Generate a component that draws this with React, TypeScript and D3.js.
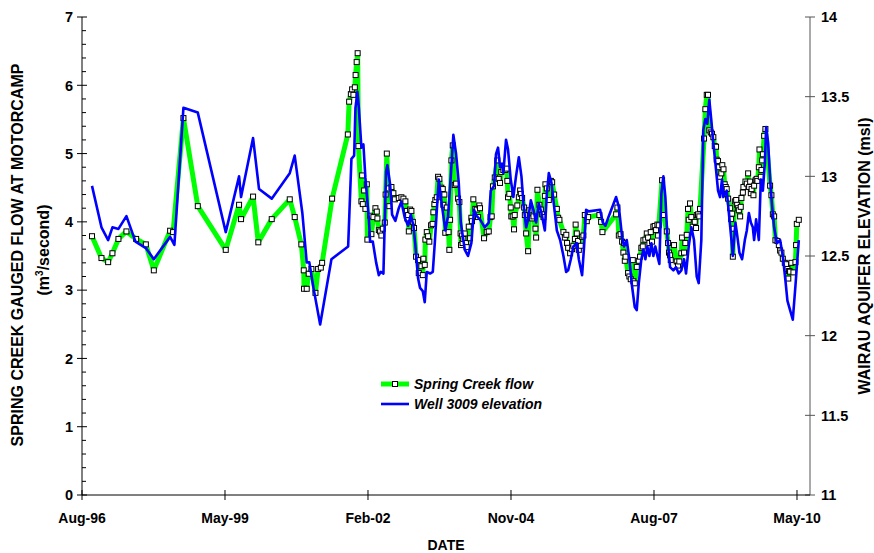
import React from "react";
import * as d3 from "d3";

// ---- data ----
const flowYears = [1996.835,1997.014,1997.142,1997.224,1997.339,1997.492,1997.678,1997.864,1998.017,1998.329,1998.386,1998.584,1998.859,1999.395,1999.650,1999.688,1999.918,2000.019,2000.276,2000.621,2000.716,2000.843,2000.889,2000.894,2000.946,2000.984,2001.034,2001.111,2001.162,2001.214,2001.239,2001.430,2001.731,2001.756,2001.789,2001.813,2001.838,2001.865,2001.880,2001.900,2001.919,2001.934,2001.991,2002.005,2002.018,2002.043,2002.068,2002.095,2002.106,2002.158,2002.183,2002.221,2002.260,2002.286,2002.298,2002.325,2002.349,2002.374,2002.401,2002.439,2002.455,2002.478,2002.503,2002.527,2002.566,2002.604,2002.631,2002.707,2002.757,2002.796,2002.834,2002.861,2002.872,2002.886,2002.899,2002.924,2002.949,2002.976,2003.000,2003.039,2003.077,2003.090,2003.140,2003.167,2003.179,2003.205,2003.217,2003.244,2003.269,2003.293,2003.326,2003.355,2003.370,2003.389,2003.408,2003.435,2003.460,2003.485,2003.523,2003.550,2003.561,2003.581,2003.598,2003.627,2003.661,2003.676,2003.690,2003.715,2003.741,2003.780,2003.805,2003.843,2003.868,2003.891,2003.900,2003.920,2003.929,2003.944,2003.971,2003.996,2004.009,2004.048,2004.073,2004.098,2004.111,2004.136,2004.174,2004.201,2004.226,2004.251,2004.264,2004.341,2004.392,2004.431,2004.465,2004.488,2004.511,2004.546,2004.595,2004.622,2004.647,2004.672,2004.710,2004.749,2004.775,2004.787,2004.800,2004.825,2004.852,2004.863,2004.890,2004.915,2004.928,2004.978,2005.005,2005.030,2005.043,2005.068,2005.107,2005.120,2005.145,2005.183,2005.208,2005.235,2005.260,2005.285,2005.323,2005.336,2005.361,2005.399,2005.426,2005.451,2005.476,2005.503,2005.514,2005.541,2005.579,2005.618,2005.643,2005.681,2005.733,2005.758,2005.782,2005.859,2005.886,2005.914,2005.928,2005.949,2005.987,2006.026,2006.050,2006.079,2006.093,2006.116,2006.140,2006.154,2006.192,2006.217,2006.242,2006.269,2006.307,2006.332,2006.548,2006.581,2006.606,2006.868,2006.893,2006.920,2006.954,2006.983,2007.008,2007.021,2007.035,2007.050,2007.098,2007.123,2007.149,2007.188,2007.199,2007.226,2007.264,2007.303,2007.327,2007.352,2007.379,2007.391,2007.429,2007.456,2007.481,2007.506,2007.532,2007.557,2007.582,2007.609,2007.634,2007.659,2007.672,2007.686,2007.749,2007.774,2007.839,2007.864,2007.881,2007.902,2007.915,2007.978,2008.030,2008.055,2008.080,2008.118,2008.132,2008.170,2008.195,2008.222,2008.246,2008.260,2008.285,2008.310,2008.336,2008.375,2008.400,2008.413,2008.438,2008.463,2008.476,2008.553,2008.578,2008.605,2008.629,2008.654,2008.681,2008.706,2008.731,2008.758,2008.783,2008.796,2008.821,2008.834,2008.859,2008.884,2008.903,2008.926,2008.949,2008.968,2008.987,2009.012,2009.051,2009.070,2009.089,2009.102,2009.114,2009.141,2009.166,2009.185,2009.198,2009.217,2009.242,2009.254,2009.267,2009.294,2009.305,2009.344,2009.370,2009.395,2009.414,2009.434,2009.447,2009.462,2009.497,2009.510,2009.539,2009.558,2009.573,2009.600,2009.612,2009.638,2009.650,2009.663,2009.677,2009.702,2009.726,2009.816,2009.841,2009.868,2009.893,2009.918,2009.956,2009.983,2010.008,2010.033,2010.060,2010.098,2010.123,2010.148,2010.165,2010.180,2010.199,2010.224,2010.263,2010.301,2010.314,2010.328,2010.366];
const flowValues = [3.79,3.47,3.41,3.54,3.75,3.86,3.75,3.67,3.29,3.87,3.85,5.52,4.23,3.59,4.25,4.04,4.37,3.70,4.04,4.33,4.07,3.67,3.29,3.02,3.02,3.24,3.31,2.96,3.31,3.33,3.40,4.34,5.28,5.76,5.87,5.94,5.86,5.97,6.15,6.34,6.47,5.11,4.30,4.68,4.26,4.46,4.19,4.55,3.74,4.09,3.82,4.07,4.20,4.15,4.05,3.88,3.86,3.80,3.90,3.99,4.40,5.00,4.49,4.23,4.51,4.42,4.33,4.35,4.36,4.34,4.30,4.16,4.05,4.10,3.86,4.18,4.16,4.00,3.91,3.49,3.44,3.25,3.35,3.22,3.46,3.37,3.74,3.85,3.79,3.71,3.95,3.97,4.14,4.26,4.32,4.36,4.66,4.63,4.50,4.48,4.25,4.40,3.84,4.21,3.85,3.59,4.03,4.90,5.12,4.54,4.56,4.34,4.29,3.83,3.66,3.80,3.69,3.75,3.83,3.69,3.63,3.93,3.76,4.06,4.01,4.33,4.19,4.18,4.07,4.24,4.20,3.76,3.85,3.86,4.07,4.08,4.52,4.65,4.90,4.63,4.57,4.73,4.76,4.76,4.78,4.60,4.36,4.41,4.21,4.08,4.08,3.89,4.10,4.24,4.36,4.46,4.41,4.35,4.21,4.10,3.83,3.57,4.17,4.06,4.05,4.08,3.90,3.77,4.47,4.25,4.18,4.11,4.07,4.38,4.55,4.49,4.32,4.60,4.58,4.40,4.19,4.06,4.03,3.85,3.77,3.81,3.69,3.62,3.54,3.60,3.65,3.75,3.96,3.83,3.72,3.59,3.65,3.78,3.80,4.10,4.01,4.07,4.10,4.00,3.85,4.11,4.21,3.80,3.82,3.71,3.55,3.69,3.43,3.49,3.25,3.20,3.16,3.44,3.13,3.10,3.34,3.43,3.49,3.62,3.64,3.73,3.74,3.83,3.77,3.69,3.85,3.71,3.93,3.94,3.88,3.96,3.80,3.95,4.61,4.10,3.86,3.69,3.55,3.51,3.44,3.66,3.42,3.36,3.42,3.54,3.77,3.55,3.69,3.81,4.19,4.03,4.27,4.07,3.93,4.00,3.91,4.10,4.11,4.08,4.19,5.22,5.65,5.86,5.86,5.34,5.31,5.29,5.24,5.11,5.10,4.91,4.89,4.80,4.66,4.71,4.83,4.77,4.55,4.51,4.48,4.34,4.20,4.04,4.12,3.49,3.90,4.30,4.32,4.25,4.20,4.17,4.08,4.22,4.35,4.43,4.51,4.59,4.56,4.71,4.51,4.59,4.42,4.48,4.39,4.53,4.61,4.63,4.60,4.80,5.06,4.66,4.76,4.90,4.99,5.26,5.36,4.53,4.39,4.11,4.08,3.73,3.72,3.66,3.58,3.55,3.46,3.40,3.38,3.31,3.17,3.28,3.27,3.40,3.26,3.41,3.66,3.97,4.03];

const wellYears = [1996.835,1997.014,1997.142,1997.224,1997.339,1997.492,1997.665,1997.864,1998.017,1998.329,1998.411,1998.584,1998.859,1999.395,1999.650,1999.688,1999.918,2000.033,2000.276,2000.621,2000.716,2000.862,2000.946,2000.996,2001.073,2001.201,2001.417,2001.737,2001.800,2001.852,2001.877,2001.915,2001.942,2001.991,2002.030,2002.068,2002.133,2002.158,2002.210,2002.273,2002.325,2002.363,2002.413,2002.464,2002.489,2002.541,2002.579,2002.642,2002.707,2002.757,2002.822,2002.886,2002.937,2002.987,2003.025,2003.077,2003.115,2003.167,2003.205,2003.244,2003.307,2003.359,2003.397,2003.473,2003.537,2003.600,2003.651,2003.703,2003.753,2003.805,2003.856,2003.895,2003.971,2004.034,2004.098,2004.149,2004.201,2004.264,2004.354,2004.431,2004.469,2004.532,2004.570,2004.609,2004.647,2004.685,2004.710,2004.762,2004.800,2004.852,2004.902,2004.953,2005.005,2005.055,2005.093,2005.145,2005.183,2005.235,2005.285,2005.336,2005.388,2005.438,2005.503,2005.541,2005.579,2005.629,2005.681,2005.733,2005.796,2005.859,2005.911,2005.949,2006.001,2006.050,2006.116,2006.154,2006.217,2006.255,2006.294,2006.345,2006.562,2006.613,2006.663,2006.728,2006.868,2006.920,2006.983,2007.021,2007.073,2007.123,2007.174,2007.226,2007.264,2007.303,2007.352,2007.391,2007.429,2007.467,2007.506,2007.544,2007.582,2007.620,2007.659,2007.697,2007.735,2007.774,2007.812,2007.850,2007.902,2007.965,2008.017,2008.068,2008.118,2008.170,2008.208,2008.260,2008.310,2008.361,2008.413,2008.451,2008.501,2008.539,2008.578,2008.616,2008.654,2008.693,2008.731,2008.783,2008.821,2008.859,2008.897,2008.922,2008.987,2009.026,2009.076,2009.102,2009.152,2009.190,2009.229,2009.280,2009.332,2009.370,2009.409,2009.447,2009.485,2009.510,2009.548,2009.600,2009.638,2009.677,2009.715,2009.740,2009.778,2009.816,2009.855,2009.893,2009.945,2010.008,2010.060,2010.109,2010.148,2010.199,2010.251,2010.301,2010.339,2010.366];
const wellValues = [12.94,12.68,12.60,12.68,12.67,12.75,12.59,12.55,12.48,12.62,12.57,13.43,13.40,12.65,13.00,12.87,13.24,12.92,12.86,13.02,13.13,12.77,12.46,12.46,12.30,12.07,12.48,12.56,13.11,13.13,13.43,13.53,13.43,13.18,13.20,12.99,12.74,12.59,12.59,12.46,12.38,12.40,12.39,13.03,13.07,12.95,12.76,12.72,12.80,12.84,12.74,12.69,12.76,12.69,12.57,12.36,12.30,12.28,12.21,12.40,12.39,12.40,12.58,12.98,12.81,12.66,12.75,13.00,13.26,13.14,12.96,12.71,12.54,12.50,12.58,12.79,12.75,12.73,12.68,12.71,12.91,12.94,13.14,13.18,13.06,13.08,13.02,13.23,13.17,12.98,12.87,13.00,13.12,13.00,12.83,12.68,12.73,12.85,12.79,12.71,12.83,12.77,12.66,12.89,13.02,12.96,12.81,12.66,12.60,12.50,12.40,12.41,12.48,12.56,12.58,12.48,12.38,12.56,12.79,12.78,12.79,12.71,12.69,12.75,12.87,12.81,12.62,12.56,12.60,12.48,12.31,12.18,12.16,12.33,12.48,12.54,12.48,12.56,12.50,12.58,12.50,12.56,12.50,12.45,12.89,13.00,12.87,12.62,12.43,12.41,12.43,12.39,12.41,12.48,12.39,12.56,12.68,12.60,12.37,12.33,12.60,13.29,13.36,13.33,13.48,13.35,13.21,13.04,12.91,12.87,12.98,12.87,12.91,12.77,12.60,12.50,12.71,12.62,12.52,12.48,12.60,12.66,12.77,12.71,12.68,12.60,12.73,12.60,12.98,12.91,13.08,13.31,13.21,12.98,12.81,12.68,12.58,12.60,12.50,12.35,12.22,12.16,12.10,12.31,12.48,12.60];

// x axis: Excel serial day numbers
const xDomainSerial = [35300, 40391];
const xTickSerials = [35300, 36300, 37300, 38300, 39300, 40300];
const flowTicks = [0, 1, 2, 3, 4, 5, 6, 7];
const elevTicks = [11, 11.5, 12, 12.5, 13, 13.5, 14];

const serialToDate = (s: number) => new Date(Date.UTC(1899, 11, 30) + s * 86400000);
const yearToDate = (y: number) => {
  const yr = Math.floor(y);
  return new Date(Date.UTC(yr, 0, 1) + (y - yr) * 365.25 * 86400000);
};

const W = 874, H = 553;
const L = 82, R = 810, T = 17, B = 495;
const FONT = "'Liberation Sans', Arial, sans-serif";

export default function App() {
  const x = d3.scaleUtc().domain(xDomainSerial.map(serialToDate)).range([L, R]);
  const yL = d3.scaleLinear().domain([0, 7]).range([B, T]);
  const yR = d3.scaleLinear().domain([11, 14]).range([B, T]);
  const fmt = d3.utcFormat("%b-%y");

  const flow = flowYears.map((y, i) => ({ d: yearToDate(y), v: flowValues[i] }));
  const well = wellYears.map((y, i) => ({ d: yearToDate(y), v: wellValues[i] }));

  const flowLine = d3.line<{ d: Date; v: number }>().x(p => x(p.d)).y(p => yL(p.v));
  const wellLine = d3.line<{ d: Date; v: number }>().x(p => x(p.d)).y(p => yR(p.v));

  const minor = d3.range(0, 7.001, 0.2).filter(v => Math.abs(v - Math.round(v)) > 1e-6);
  const MS = 5;

  return (
    <svg width={W} height={H} style={{ position: "absolute", left: 0, top: 0, background: "#fff" }}
      fontFamily={FONT} fontWeight="bold">
      <rect width={W} height={H} fill="#fff" />
      {/* series */}
      <path d={flowLine(flow) || ""} fill="none" stroke="#00ff00" strokeWidth={5} strokeLinejoin="round" />
      {flow.map((p, i) => (
        <rect key={i} x={x(p.d) - MS / 2} y={yL(p.v) - MS / 2} width={MS} height={MS} fill="#fff" stroke="#000" strokeWidth={1} />
      ))}
      <path d={wellLine(well) || ""} fill="none" stroke="#0000ff" strokeWidth={2.6} strokeLinejoin="round" />

      {/* left axis */}
      <line x1={L} x2={L} y1={T} y2={B} stroke="#000" strokeWidth={1} />
      {minor.map((v, i) => (
        <line key={i} x1={L} x2={L + 4} y1={yL(v)} y2={yL(v)} stroke="#000" />
      ))}
      {flowTicks.map(v => (
        <g key={v}>
          <line x1={L - 5} x2={L + 5} y1={yL(v)} y2={yL(v)} stroke="#000" />
          <text x={L - 9} y={yL(v)} dy="0.36em" textAnchor="end" fontSize={14.5}>{v}</text>
        </g>
      ))}
      {/* right axis */}
      <line x1={R} x2={R} y1={T} y2={B} stroke="#555" strokeWidth={1} />
      {elevTicks.map(v => (
        <g key={v}>
          <line x1={R - 5} x2={R + 5} y1={yR(v)} y2={yR(v)} stroke="#555" />
          <text x={R + 11} y={yR(v)} dy="0.36em" textAnchor="start" fontSize={14.5}>{v}</text>
        </g>
      ))}
      {/* bottom axis */}
      <line x1={L} x2={R} y1={B} y2={B} stroke="#000" strokeWidth={1} />
      {xTickSerials.map(s => {
        const xx = x(serialToDate(s));
        return (
          <g key={s}>
            <line x1={xx} x2={xx} y1={B - 5} y2={B + 5} stroke="#000" />
            <text x={xx} y={523} textAnchor="middle" fontSize={14}>{fmt(serialToDate(s))}</text>
          </g>
        );
      })}
      {/* titles */}
      <text x={(L + R) / 2} y={550} textAnchor="middle" fontSize={14}>DATE</text>
      <text transform={`translate(23,255) rotate(-90)`} textAnchor="middle" fontSize={16}>
        SPRING CREEK GAUGED FLOW AT MOTORCAMP
      </text>
      <text transform={`translate(49,250) rotate(-90)`} textAnchor="middle" fontSize={16}>
        (m<tspan dy={-6} fontSize={10}>3</tspan><tspan dy={6}>/second)</tspan>
      </text>
      <text transform={`translate(869.5,256) rotate(-90)`} textAnchor="middle" fontSize={16}>
        WAIRAU AQUIFER ELEVATION (msl)
      </text>
      {/* legend */}
      <line x1={381} x2={409} y1={384} y2={384} stroke="#00ff00" strokeWidth={5} />
      <rect x={395 - MS / 2} y={384 - MS / 2} width={MS} height={MS} fill="#fff" stroke="#000" />
      <text x={414} y={389} fontSize={14} fontStyle="italic">Spring Creek flow</text>
      <line x1={381} x2={409} y1={404} y2={404} stroke="#0000ff" strokeWidth={2.6} />
      <text x={414} y={409} fontSize={14} fontStyle="italic">Well 3009 elevation</text>
    </svg>
  );
}
